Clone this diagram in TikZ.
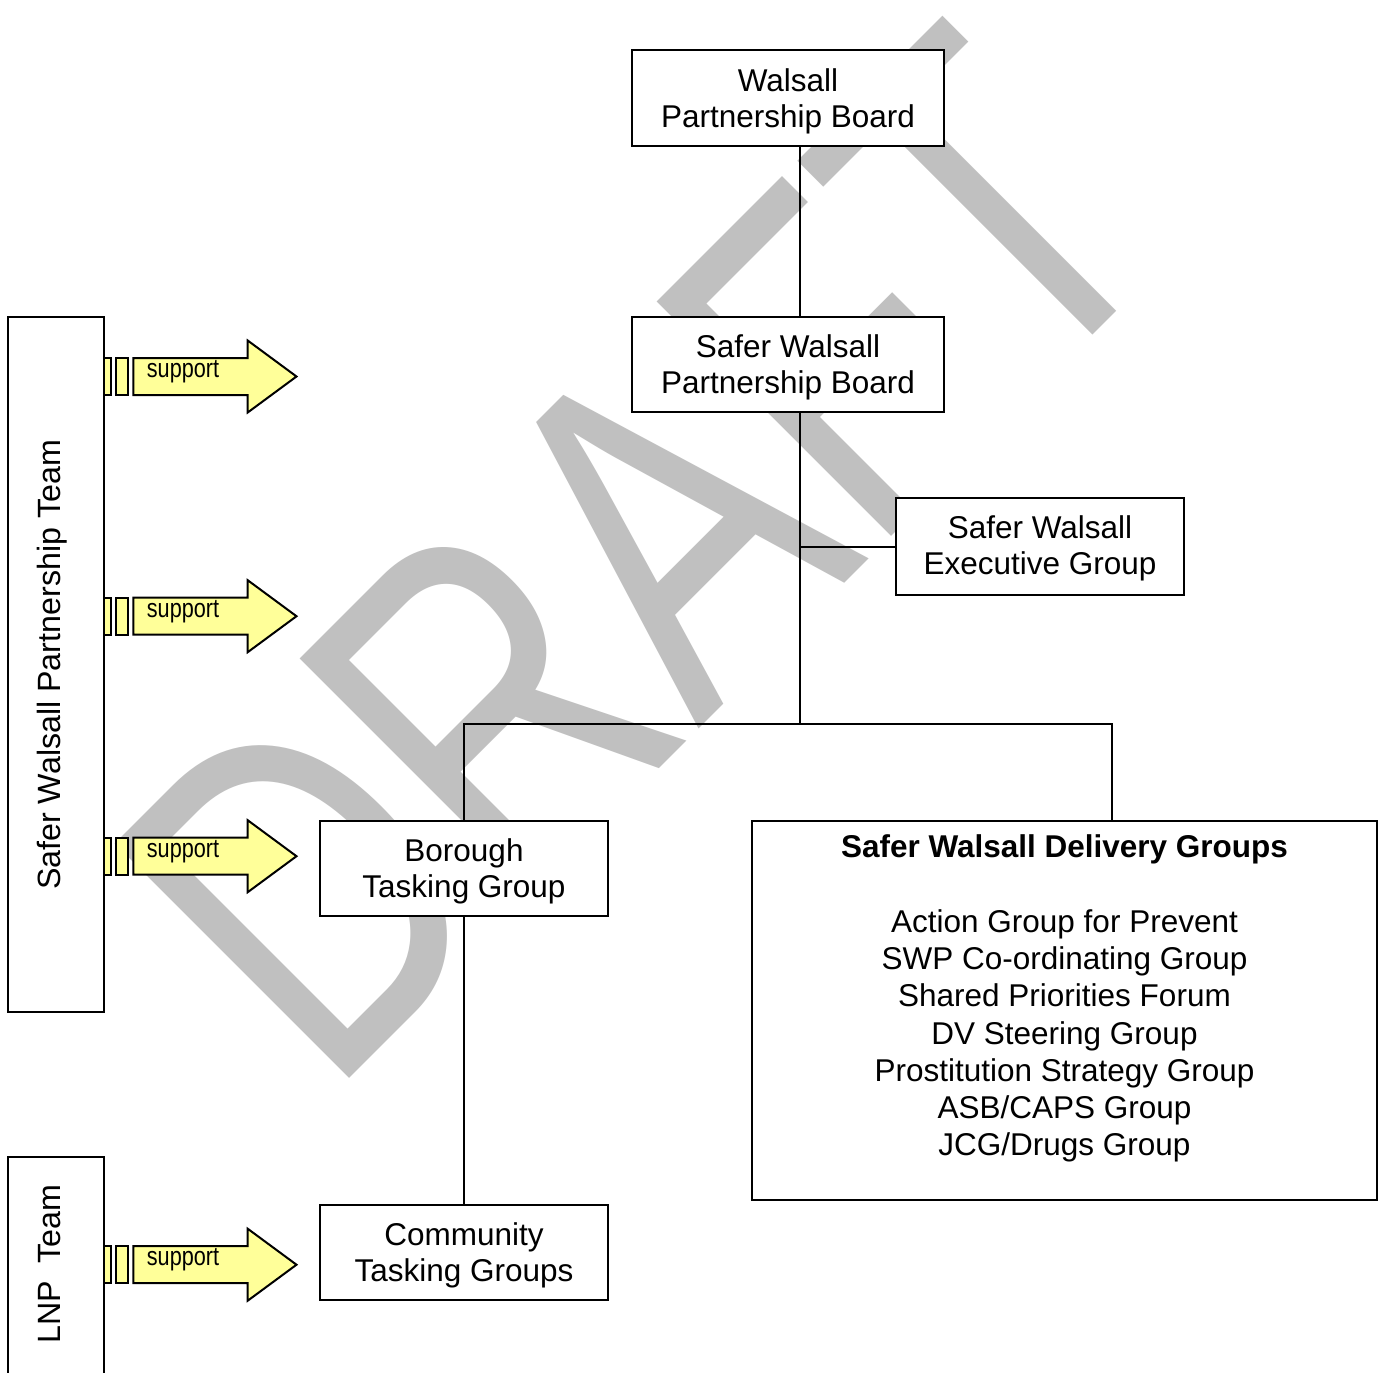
\documentclass[tikz,border=0pt]{standalone}
\usepackage{fontspec}
\usepackage{graphicx}
\setmainfont{Liberation Sans}
\newfontfamily\narrowfont[FakeStretch=0.82]{Liberation Sans}
\newfontfamily\wmfont[Kerning=Off]{Liberation Sans}
\definecolor{wmgray}{HTML}{C0C0C0}
\definecolor{supyellow}{HTML}{FFFF99}
\newcommand{\topstrut}{\rule{0pt}{14.5pt}}
\begin{document}
\begin{tikzpicture}[x=0.5pt,y=-0.5pt,
  box/.style={draw, line width=1pt, fill=white, inner sep=0pt, align=center, font=\fontsize{15.75}{18}\selectfont},
  conn/.style={line width=1pt},
  arr/.style={draw, line width=1pt, fill=supyellow, line join=miter},
  sup/.style={anchor=base west, inner sep=0pt, font=\narrowfont\fontsize{13.2}{15}\selectfont},
  side/.style={anchor=base, rotate=90, inner sep=0pt, font=\fontsize{16.1}{18}\selectfont}]
\useasboundingbox (0,0) rectangle (1386,1372);
\fill[white] (0,0) rectangle (1386,1372);
% watermark
\node[anchor=base west, rotate=45, inner sep=0pt, text=wmgray] (wm) at (328,1100)
  {\scalebox{0.753}[1]{\wmfont\fontsize{241}{241}\selectfont DRAFT}};
% connector junctions
\coordinate (j1) at (800,724);
\coordinate (j3) at (1112,724);
% boxes
\node[box, minimum width=156pt, minimum height=48pt] (wpb) at (788,98) {\topstrut Walsall\\Partnership Board};
\node[box, minimum width=156pt, minimum height=47.5pt] (swpb) at (788,364.5) {\topstrut Safer Walsall\\Partnership Board};
\node[box, minimum width=144pt, minimum height=48.5pt] (sweg) at (1040,546.5) {\rule{0pt}{13.5pt}Safer Walsall\\Executive Group};
\node[box, minimum width=144pt, minimum height=47.5pt] (btg) at (464,868.5) {\topstrut Borough\\Tasking Group};
\node[box, minimum width=144pt, minimum height=47.5pt] (ctg) at (464,1252.5) {\topstrut Community\\Tasking Groups};
\node[box, minimum width=312.5pt, minimum height=189.5pt] (swdg) at (1064.5,1010.5) {};
\node[anchor=base, inner sep=0pt, font=\fontsize{15.75}{18.6}\selectfont] (swdgt) at (1064.5,857)
  {\begin{tabular}[t]{@{}c@{}}\textbf{Safer Walsall Delivery Groups}\\[0.5pt]
   \\
   Action Group for Prevent\\
   SWP Co-ordinating Group\\
   Shared Priorities Forum\\
   DV Steering Group\\
   Prostitution Strategy Group\\
   ASB/CAPS Group\\
   JCG/Drugs Group\end{tabular}};
\node[box, minimum width=48pt, minimum height=347.5pt] (swpt) at (56,664.5) {};
\node[side] (swptt) at (61,665) {Safer Walsall Partnership Team};
\node[box, minimum width=48pt, minimum height=120pt] (lnp) at (56,1277) {};
\node[side] (lnpt) at (61,1264) {LNP\ \ Team};
% lines
\draw[conn] (wpb.south -| j1) -- (swpb.north -| j1);
\draw[conn] (swpb.south -| j1) -- (j1);
\draw[conn] (sweg.west -| j1) -- (sweg.west);
\draw[conn] (btg.north) |- (j3) -- (j3 |- swdg.north);
\draw[conn] (btg.south) -- (ctg.north);
% support arrows
\foreach \c/\n in {376.5/s1,616.2/s2,856.2/s3,1264.7/s4}{
  \draw[arr] (104,\c-18.5) rectangle (110.7,\c+18.5);
  \draw[arr] (115.7,\c-18.5) rectangle (127.7,\c+18.5);
  \draw[arr] (133.3,\c-18.5) -- (247.7,\c-18.5) -- (247.7,\c-36) -- (296.5,\c)
     -- (247.7,\c+36) -- (247.7,\c+18.5) -- (133.3,\c+18.5) -- cycle;
  \node[sup] (\n) at (146.5,\c+1) {support};
}
\end{tikzpicture}
\end{document}
